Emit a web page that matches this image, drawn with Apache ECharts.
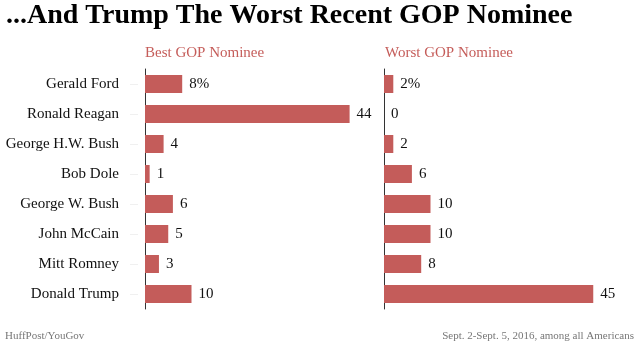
<!DOCTYPE html>
<html><head><meta charset="utf-8">
<script src="https://cdn.jsdelivr.net/npm/echarts@6/dist/echarts.min.js"></script>
<style>html,body{margin:0;padding:0;background:#fff}#c{width:639px;height:348px}</style>
</head><body><div id="c"></div>
<script>
const categories = ["Gerald Ford","Ronald Reagan","George H.W. Bush","Bob Dole","George W. Bush","John McCain","Mitt Romney","Donald Trump"];
const bestValues = [8,44,4,1,6,5,3,10];
const worstValues = [2,0,2,6,10,10,8,45];
const panelTitles = ["Best GOP Nominee","Worst GOP Nominee"];
const titleText = "...And Trump The Worst Recent GOP Nominee";
const sourceText = "HuffPost/YouGov";
const noteText = "Sept. 2-Sept. 5, 2016, among all Americans";

const serif = "'Liberation Serif','Times New Roman',serif";
const barColor = "#c45c5a";
const chart = echarts.init(document.getElementById('c'));

function pctLabel(p){ return p.dataIndex === 0 ? p.value + '%' : String(p.value); }

chart.setOption({
  animation: false,
  title: [
    {text: sourceText, left: 0, top: 326, textStyle: {fontFamily: serif, fontWeight: 'normal', fontSize: 11, color: '#777'}},
    {text: noteText, right: 0, top: 326, textStyle: {fontFamily: serif, fontWeight: 'normal', fontSize: 11, color: '#777'}}
  ],
  graphic: [
    {type: 'text', x: 6, y: 16,
     style: {text: titleText, font: "bold 28px " + serif, fill: '#000', verticalAlign: 'middle'}},
    {type: 'text', x: 145, y: 53.2,
     style: {text: panelTitles[0], font: "15px " + serif, fill: '#c55d5a', verticalAlign: 'middle'}},
    {type: 'text', x: 385, y: 53.2,
     style: {text: panelTitles[1], font: "15px " + serif, fill: '#c55d5a', verticalAlign: 'middle'}}
  ],
  grid: [
    {left: 145, top: 69, width: 232.5, height: 240},
    {left: 384, top: 69, width: 232.5, height: 240}
  ],
  xAxis: [
    {gridIndex: 0, type: 'value', min: 0, max: 50, show: false},
    {gridIndex: 1, type: 'value', min: 0, max: 50, show: false}
  ],
  yAxis: [
    {gridIndex: 0, type: 'category', data: categories, inverse: true,
     axisLine: {show: true, lineStyle: {color: '#333', width: 1}},
     axisTick: {show: false},
     axisLabel: {margin: 26, fontFamily: serif, fontSize: 15, color: '#111'},
     splitLine: {show: false}},
    {gridIndex: 0, type: 'category', data: categories, inverse: true, position: 'left', offset: 7,
     axisLine: {show: false},
     axisTick: {show: true, alignWithLabel: true, length: 8, lineStyle: {color: '#f0f0f0'}},
     axisLabel: {show: false}},
    {gridIndex: 1, type: 'category', data: categories, inverse: true,
     axisLine: {show: true, lineStyle: {color: '#333', width: 1}},
     axisTick: {show: false}, axisLabel: {show: false}}
  ],
  series: [
    {type: 'bar', xAxisIndex: 0, yAxisIndex: 0, data: bestValues, barWidth: 18,
     itemStyle: {color: barColor},
     label: {show: true, position: 'right', distance: 7, fontFamily: serif, fontSize: 15, color: '#111', formatter: pctLabel}},
    {type: 'bar', xAxisIndex: 1, yAxisIndex: 2, data: worstValues, barWidth: 18,
     itemStyle: {color: barColor},
     label: {show: true, position: 'right', distance: 7, fontFamily: serif, fontSize: 15, color: '#111', formatter: pctLabel}}
  ]
});
</script></body></html>
